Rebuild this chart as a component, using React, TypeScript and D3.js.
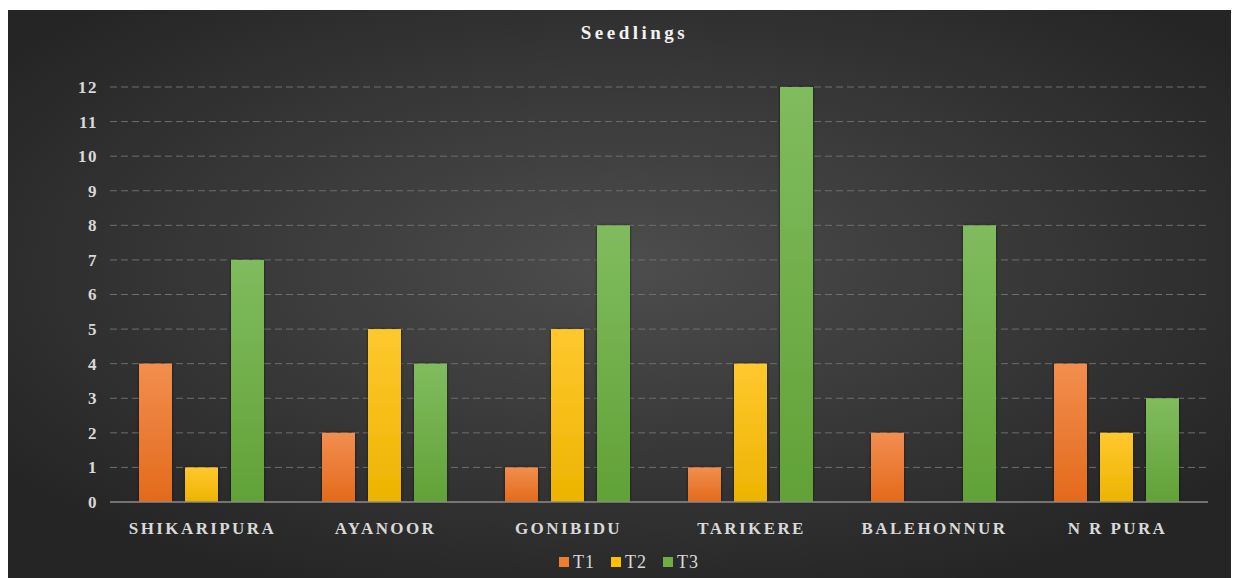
import { useEffect, useRef } from 'react';
import * as d3 from 'd3';

const categories = ['SHIKARIPURA', 'AYANOOR', 'GONIBIDU', 'TARIKERE', 'BALEHONNUR', 'N R PURA'];
const seriesNames = ['T1', 'T2', 'T3'];
const t1 = [4, 2, 1, 1, 2, 4];
const t2 = [1, 5, 5, 4, 0, 2];
const t3 = [7, 4, 8, 12, 8, 3];
const yTicks = [0, 1, 2, 3, 4, 5, 6, 7, 8, 9, 10, 11, 12];

const COLORS = [
  { top: '#F28E4F', bottom: '#E36A1C', key: '#ED7D31' },
  { top: '#FFC82E', bottom: '#EDB400', key: '#FFC000' },
  { top: '#80BC5E', bottom: '#62A137', key: '#70AD47' },
];

const W = 1231;
const H = 568;
const FONT = '"Liberation Serif", "Times New Roman", "DejaVu Serif", serif';

export default function App() {
  const svgRef = useRef<SVGSVGElement>(null);

  useEffect(() => {
    const svg = d3.select(svgRef.current);
    svg.selectAll('*').remove();

    const m = { top: 77, right: 31, bottom: 76, left: 102 };
    const iw = W - m.left - m.right;
    const ih = H - m.top - m.bottom;

    const defs = svg.append('defs');
    const bg = defs.append('radialGradient').attr('id', 'bg')
      .attr('cx', '50%').attr('cy', '45%').attr('r', '62%');
    bg.append('stop').attr('offset', '0%').attr('stop-color', '#4d4d4d');
    bg.append('stop').attr('offset', '100%').attr('stop-color', '#252525');

    COLORS.forEach((c, i) => {
      const lg = defs.append('linearGradient').attr('id', `bar${i}`)
        .attr('x1', 0).attr('y1', 0).attr('x2', 0).attr('y2', 1);
      lg.append('stop').attr('offset', '0%').attr('stop-color', c.top);
      lg.append('stop').attr('offset', '100%').attr('stop-color', c.bottom);
    });

    const f = defs.append('filter').attr('id', 'shadow')
      .attr('x', '-30%').attr('y', '-10%').attr('width', '160%').attr('height', '120%');
    f.append('feDropShadow').attr('dx', 0).attr('dy', 0).attr('stdDeviation', 1.5)
      .attr('flood-color', '#000').attr('flood-opacity', 0.6);

    svg.append('rect').attr('width', W).attr('height', H).attr('fill', 'url(#bg)');

    svg.append('text').attr('x', W / 2 + 11).attr('y', 29)
      .attr('text-anchor', 'middle').attr('fill', '#f2f2f2')
      .style('font-family', FONT).attr('font-weight', 'bold').attr('font-size', 19)
      .attr('letter-spacing', 3.5).text('Seedlings');

    const g = svg.append('g').attr('transform', `translate(${m.left},${m.top})`);

    const x = d3.scaleBand().domain(categories).range([0, iw]).padding(0);
    const xi = d3.scaleBand().domain(seriesNames).range([0, 125]).paddingInner(0.283).paddingOuter(0);
    const y = d3.scaleLinear().domain([0, 12]).range([ih, 0]);

    g.append('g').selectAll('line').data(yTicks.filter(t => t > 0)).join('line')
      .attr('x1', 0).attr('x2', iw)
      .attr('y1', d => y(d)).attr('y2', d => y(d))
      .attr('stroke', '#6e6e6e').attr('stroke-width', 1).attr('stroke-dasharray', '7,4');

    g.append('g').selectAll('text').data(yTicks).join('text')
      .attr('x', -12).attr('y', d => y(d)).attr('dy', '0.35em')
      .attr('text-anchor', 'end').attr('fill', '#d9d9d9')
      .style('font-family', FONT).attr('font-weight', 'bold').attr('font-size', 17)
      .attr('letter-spacing', 1.5)
      .text(d => d);

    const series = [t1, t2, t3];
    const groups = g.append('g').selectAll('g').data(categories).join('g')
      .attr('transform', d => `translate(${(x(d) ?? 0) + x.bandwidth() / 2 - 62.5},0)`);

    groups.selectAll('rect')
      .data((_, ci) => series.map((s, si) => ({ key: seriesNames[si], si, v: s[ci] })).filter(d => d.v > 0))
      .join('rect')
      .attr('x', d => xi(d.key) ?? 0)
      .attr('y', d => y(d.v))
      .attr('width', xi.bandwidth())
      .attr('height', d => ih - y(d.v))
      .attr('fill', d => `url(#bar${d.si})`)
      .attr('filter', 'url(#shadow)');

    g.append('line').attr('x1', 0).attr('x2', iw).attr('y1', ih).attr('y2', ih)
      .attr('stroke', '#8c8c8c').attr('stroke-width', 1.5);

    g.append('g').selectAll('text').data(categories).join('text')
      .attr('x', d => (x(d) ?? 0) + x.bandwidth() / 2 + 1)
      .attr('y', ih + 32)
      .attr('text-anchor', 'middle').attr('fill', '#d9d9d9')
      .style('font-family', FONT).attr('font-weight', 'bold').attr('font-size', 17)
      .attr('letter-spacing', 2.4)
      .text(d => d);

    const legend = svg.append('g').attr('transform', `translate(551,552)`);
    const item = legend.selectAll('g').data(seriesNames).join('g')
      .attr('transform', (_, i) => `translate(${i * 52},0)`);
    item.append('rect').attr('x', 0).attr('y', -5).attr('width', 10).attr('height', 10)
      .attr('fill', (_, i) => COLORS[i].key);
    item.append('text').attr('x', 14).attr('y', 0).attr('dy', '0.35em')
      .attr('fill', '#d9d9d9').style('font-family', FONT).attr('font-size', 18)
      .attr('letter-spacing', 1)
      .text(d => d);
  }, []);

  return (
    <div style={{ paddingTop: 2 }}>
      <svg ref={svgRef} width={W} height={H} style={{ display: 'block' }} />
    </div>
  );
}
